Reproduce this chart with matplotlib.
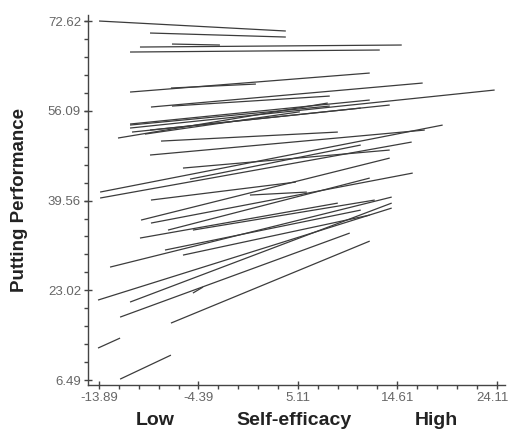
import matplotlib
matplotlib.use("Agg")
import matplotlib.pyplot as plt
from matplotlib.ticker import AutoMinorLocator, FixedLocator
from matplotlib.transforms import ScaledTranslation

# ── Data: one regression line per participant (self-efficacy -> putting) ──
x_start = [-13.89, -9.02, -6.92, -9.98, -10.93,
           -10.93, -7.02, -8.93, -6.92,
           -10.93, -10.93, -10.74, -12.08, -7.97, -9.02, -5.87,
           -10.93, -9.02, -9.50,
           -13.79, -13.79, -8.93, -9.88, -8.93, -7.30, -4.92, -9.98,
           -5.20, 0.53,
           -7.59, -5.87, -12.84, -13.99, -10.93, -4.92, -11.88, -7.02,
           -13.99, -11.88]
x_end = [3.96, 3.96, -2.34, 15.04, 12.94,
         11.98, 1.10, 17.04, 8.16,
         11.98, 23.92, 13.89, 7.97, 8.93, 17.24, 13.89,
         8.16, 11.12, 5.30,
         18.95, 15.99, 4.92, 13.89, 16.09, 11.98, 12.46, 8.93,
         11.12, 5.97,
         11.12, 11.98, 14.08, 14.08, 14.08, -3.96, 10.07, 11.98,
         -11.88, -7.02]
y_start = [72.62, 70.41, 68.38, 67.83, 66.91,
           59.54, 60.28, 56.78, 56.96,
           53.65, 52.91, 52.17, 51.07, 50.51, 47.94, 45.54,
           53.46, 52.54, 51.80,
           41.12, 40.02, 39.65, 35.96, 35.41, 34.12, 34.12, 32.65,
           43.50, 40.57,
           30.44, 29.51, 27.30, 21.23, 20.86, 22.52, 18.09, 16.99,
           12.39, 6.67]
y_end = [70.78, 69.67, 68.20, 68.20, 67.28,
         63.04, 61.01, 61.20, 58.80,
         58.07, 59.91, 57.15, 57.52, 52.17, 52.54, 48.86,
         56.96, 56.59, 55.90,
         53.46, 50.33, 42.96, 47.38, 44.62, 43.70, 39.65, 39.09,
         49.78, 41.12,
         37.80, 36.88, 40.20, 38.17, 39.09, 23.62, 33.57, 32.09,
         14.23, 11.09]

x_ticks = [-13.89, -4.39, 5.11, 14.61, 24.11]
y_ticks = [6.49, 23.02, 39.56, 56.09, 72.62]

# ── Figure ────────────────────────────────────────────────────
fig = plt.figure(figsize=(5.1, 4.33), dpi=100)
ax = fig.add_axes([0.1725, 0.111, 0.8175, 0.854])

for xs, xe, ys, ye in zip(x_start, x_end, y_start, y_end):
    ax.plot([xs, xe], [ys, ye], color="#3c3c3c", lw=0.9, solid_capstyle="butt")

ax.set_xlim(-14.95, 24.9)
ax.set_ylim(5.6, 73.7)

ax.xaxis.set_major_locator(FixedLocator(x_ticks))
ax.yaxis.set_major_locator(FixedLocator(y_ticks))
ax.set_xticklabels([f"{v:.2f}" for v in x_ticks])
ax.set_yticklabels([f"{v:.2f}" for v in y_ticks])
ax.xaxis.set_minor_locator(AutoMinorLocator(5))
ax.yaxis.set_minor_locator(AutoMinorLocator(5))

for s in ("top", "right"):
    ax.spines[s].set_visible(False)
for s in ("left", "bottom"):
    ax.spines[s].set_color("#444444")
    ax.spines[s].set_linewidth(1.0)

ax.tick_params(which="major", direction="inout", length=6, width=1.0,
               color="#444444", labelsize=9.5, labelcolor="#666666", pad=2)
ax.tick_params(which="minor", direction="out", length=3, width=1.0,
               color="#444444")
for lbl in ax.get_xticklabels() + ax.get_yticklabels():
    lbl.set_fontfamily("Liberation Sans")

# last x label sits right at the canvas edge: nudge it in a little
last = ax.get_xticklabels()[-1]
last.set_transform(last.get_transform() + ScaledTranslation(-4 / 100, 0, fig.dpi_scale_trans))

ax.set_ylabel("Putting Performance", fontsize=13.5, fontweight="bold",
              fontfamily="Liberation Sans", color="#222222", labelpad=14)

for xp, txt in [(155, "Low"), (294, "Self-efficacy"), (436, "High")]:
    fig.text(xp / 510, 0.03, txt, fontsize=14, fontweight="bold",
             fontfamily="Liberation Sans", color="#222222",
             ha="center", va="center")

fig.savefig("out.png", dpi=100, facecolor="white")
